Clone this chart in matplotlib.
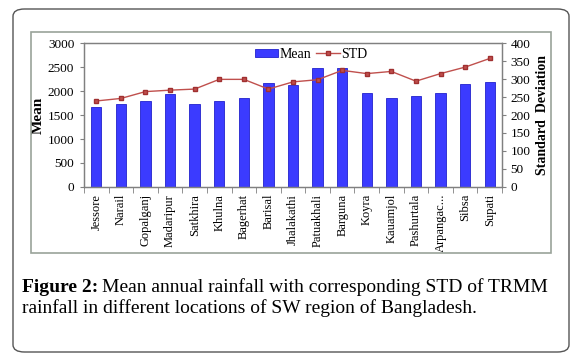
import matplotlib
matplotlib.use("Agg")
import matplotlib.pyplot as plt
from matplotlib.patches import FancyBboxPatch, Rectangle
import numpy as np

stations = ["Jessore", "Narail", "Gopalganj", "Madaripur", "Satkhira", "Khulna",
            "Bagerhat", "Barisal", "Jhalakathi", "Patuakhali", "Barguna", "Koyra",
            "Kauamjol", "Pashurtala", "Arpangac...", "Sibsa", "Supati"]
mean_vals = [1675, 1730, 1800, 1940, 1723, 1793, 1863, 2170, 2135, 2470, 2470,
             1960, 1856, 1898, 1967, 2142, 2184]
std_vals = [239, 246, 265, 269, 272, 299, 299, 272, 292, 298, 324,
            315, 321, 294, 315, 333, 357]
left_ticks = [0, 500, 1000, 1500, 2000, 2500, 3000]
right_ticks = [0, 50, 100, 150, 200, 250, 300, 350, 400]

serif = "Liberation Serif"
W, H = 578, 362
fig = plt.figure(figsize=(W / 100, H / 100), dpi=100)

# outer rounded frame
outer = FancyBboxPatch((13 / W, 1 - 352 / H), (569 - 13) / W, (352 - 9) / H,
                       boxstyle="round,pad=0,rounding_size=0.02",
                       transform=fig.transFigure, fill=False,
                       edgecolor="#555555", linewidth=1.0)
fig.patches.append(outer)
# inner chart frame
inner = Rectangle((31 / W, 1 - 253 / H), (551 - 31) / W, (253 - 32) / H,
                  transform=fig.transFigure, fill=False,
                  edgecolor="#9aa39a", linewidth=1.2)
fig.patches.append(inner)

ax = fig.add_axes([84 / W, 1 - 187 / H, (502 - 84) / W, (187 - 43) / H])
x = np.arange(len(stations))
ax.bar(x, mean_vals, width=0.42, color="#3b3bff", edgecolor="#2222cc",
       linewidth=0.6, label="Mean", zorder=2)
ax.set_xlim(-0.5, len(stations) - 0.5)
ax.set_ylim(0, 3000)
ax.set_yticks(left_ticks)
ax.set_yticklabels([str(t) for t in left_ticks], fontsize=9.5, family=serif)
ax.set_xticks(x)
ax.set_xticklabels(stations, rotation=90, fontsize=9, family=serif)
ax.set_xticks(np.arange(-0.5, len(stations)), minor=True)
ax.tick_params(axis="x", which="major", length=0, pad=5)
ax.tick_params(axis="x", which="minor", length=4, color="#808080")
ax.tick_params(axis="y", length=3, color="#808080", pad=4)
ax.set_ylabel("Mean", fontsize=11, fontweight="bold", family=serif, labelpad=2)
for s in ax.spines.values():
    s.set_color("#808080")
    s.set_linewidth(0.9)

ax2 = ax.twinx()
ax2.plot(x, std_vals, color="#c0504d", linewidth=1.0, marker="s",
         markersize=3, markerfacecolor="#c0504d", markeredgecolor="#a03030",
         label="STD", zorder=3)
ax2.set_ylim(0, 400)
ax2.set_yticks(right_ticks)
ax2.set_yticklabels([str(t) for t in right_ticks], fontsize=9.5, family=serif)
ax2.tick_params(axis="y", length=3, color="#808080", pad=3)
ax2.set_ylabel("Standard  Deviation", fontsize=10, fontweight="bold",
               family=serif, labelpad=4)
for s in ax2.spines.values():
    s.set_color("#808080")
    s.set_linewidth(0.9)

h1, l1 = ax.get_legend_handles_labels()
h2, l2 = ax2.get_legend_handles_labels()
leg = ax2.legend(h1 + h2, l1 + l2, loc="upper left",
                 bbox_to_anchor=(166 / 418, 1.0),
                 ncol=2, frameon=False, prop={"family": serif, "size": 10},
                 handlelength=1.7, handleheight=0.5, handletextpad=0.05,
                 columnspacing=0.4, borderaxespad=0.15, borderpad=0.2)

# caption
fs = 14
t1 = fig.text(22 / W, 1 - 292 / H, "Figure 2:", fontsize=fs, family=serif,
              fontweight="bold", va="baseline", ha="left")
fig.canvas.draw()
bb = t1.get_window_extent()
fig.text((bb.x1 + 4) / W, 1 - 292 / H,
         "Mean annual rainfall with corresponding STD of TRMM",
         fontsize=fs, family=serif, va="baseline", ha="left")
fig.text(22 / W, 1 - 313 / H,
         "rainfall in different locations of SW region of Bangladesh.",
         fontsize=fs, family=serif, va="baseline", ha="left")

fig.savefig("out.png", dpi=100)
